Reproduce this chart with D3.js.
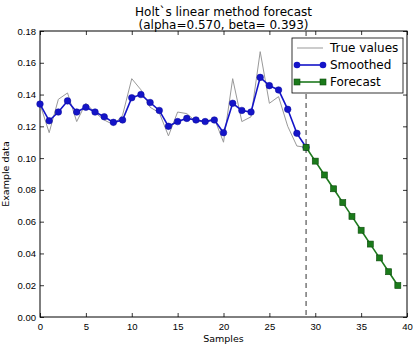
<!DOCTYPE html>
<html>
<head>
<meta charset="utf-8">
<script src="https://d3js.org/d3.v7.min.js"></script>
<style>
  body { margin: 0; background: #fff; }
  svg { font-family: "DejaVu Sans", sans-serif; }
</style>
</head>
<body>
<svg width="415" height="346"></svg>
<script>
// data
const trueValues = [0.134, 0.116, 0.137, 0.141, 0.123, 0.1345, 0.1286, 0.124, 0.121, 0.127,
  0.150, 0.143, 0.132, 0.1286, 0.114, 0.129, 0.128, 0.123, 0.123, 0.125,
  0.110, 0.150, 0.123, 0.126, 0.167, 0.1345, 0.1387, 0.120, 0.1076, 0.1068];
const smoothed = [0.134, 0.1235, 0.129, 0.136, 0.129, 0.132, 0.129, 0.126, 0.1225, 0.124,
  0.138, 0.140, 0.135, 0.130, 0.120, 0.123, 0.125, 0.124, 0.123, 0.124,
  0.116, 0.1345, 0.130, 0.129, 0.1508, 0.1456, 0.1429, 0.1307, 0.1156, 0.1068];
const forecast = [0.1068, 0.0981, 0.0894, 0.0807, 0.0720, 0.0633, 0.0546, 0.0459, 0.0372, 0.0285, 0.0198];
const forecastStart = 29;
const xTicks = [0, 5, 10, 15, 20, 25, 30, 35, 40];
const yTicks = [0, 0.02, 0.04, 0.06, 0.08, 0.10, 0.12, 0.14, 0.16, 0.18];

const svg = d3.select("svg");
const margin = {top: 31, right: 8, bottom: 29, left: 40};
const width = 415 - margin.left - margin.right,
      height = 346 - margin.top - margin.bottom;
const g = svg.append("g").attr("transform", `translate(${margin.left},${margin.top})`);

const x = d3.scaleLinear().domain([0, 40]).range([0, width]);
const y = d3.scaleLinear().domain([0, 0.18]).range([height, 0]);

// axes with inward ticks on all sides
const fmt = d3.format(".2f");
const ax = (a) => a.tickSizeInner(-4).tickSizeOuter(0).tickPadding(4);
const xa = g.append("g").attr("transform", `translate(0,${height})`)
  .call(ax(d3.axisBottom(x).tickValues(xTicks).tickFormat(d3.format("d"))));
const xt = g.append("g").call(ax(d3.axisTop(x).tickValues(xTicks)).tickFormat(""));
const ya = g.append("g").call(ax(d3.axisLeft(y).tickValues(yTicks).tickFormat(fmt)));
const yr = g.append("g").attr("transform", `translate(${width},0)`)
  .call(ax(d3.axisRight(y).tickValues(yTicks)).tickFormat(""));
[xa, xt, ya, yr].forEach(a => {
  a.select(".domain").remove();
  a.selectAll("line").attr("stroke", "#000").attr("stroke-width", 0.8);
  a.selectAll("text").attr("font-size", 9.5).attr("fill", "#000");
});
xa.selectAll("text").attr("dy", "0.9em");

g.append("rect").attr("width", width).attr("height", height)
  .attr("fill", "none").attr("stroke", "#000").attr("stroke-width", 1);

const line = d3.line().x((d, i) => x(i)).y(d => y(d));
const fline = d3.line().x((d, i) => x(i + forecastStart)).y(d => y(d));

// dashed line where forecast starts
g.append("line")
  .attr("x1", x(forecastStart)).attr("x2", x(forecastStart))
  .attr("y1", 0).attr("y2", height)
  .attr("stroke", "#555").attr("stroke-width", 1.2).attr("stroke-dasharray", "5,4");

g.append("path").datum(trueValues).attr("d", line)
  .attr("fill", "none").attr("stroke", "#999").attr("stroke-width", 1);

g.append("path").datum(smoothed).attr("d", line)
  .attr("fill", "none").attr("stroke", "#1414c8").attr("stroke-width", 1.6);
g.selectAll(".sm").data(smoothed).enter().append("circle")
  .attr("cx", (d, i) => x(i)).attr("cy", d => y(d)).attr("r", 3.3)
  .attr("fill", "#1414c8").attr("stroke", "#0a0a9a").attr("stroke-width", 0.5);

g.append("path").datum(forecast).attr("d", fline)
  .attr("fill", "none").attr("stroke", "#1e7a1e").attr("stroke-width", 1.6);
g.selectAll(".fc").data(forecast).enter().append("rect")
  .attr("x", (d, i) => x(i + forecastStart) - 3).attr("y", d => y(d) - 3)
  .attr("width", 6).attr("height", 6)
  .attr("fill", "#1a7a1a").attr("stroke", "#0c4a0c").attr("stroke-width", 0.6);

// legend
const lg = svg.append("g").attr("transform", "translate(292,38)");
lg.append("rect").attr("width", 111).attr("height", 55)
  .attr("fill", "#fff").attr("stroke", "#000").attr("stroke-width", 0.8);
const items = [
  {name: "True values", color: "#999", w: 1, marker: null},
  {name: "Smoothed", color: "#1414c8", w: 1.6, marker: "circle"},
  {name: "Forecast", color: "#1e7a1e", w: 1.6, marker: "square"}
];
items.forEach((it, i) => {
  const yy = 10 + i * 17;
  lg.append("line").attr("x1", 5).attr("x2", 31).attr("y1", yy).attr("y2", yy)
    .attr("stroke", it.color).attr("stroke-width", it.w);
  [5, 31].forEach(px => {
    if (it.marker === "circle")
      lg.append("circle").attr("cx", px).attr("cy", yy).attr("r", 3.3).attr("fill", it.color);
    if (it.marker === "square")
      lg.append("rect").attr("x", px - 3).attr("y", yy - 3).attr("width", 6).attr("height", 6)
        .attr("fill", "#1a7a1a").attr("stroke", "#0c4a0c").attr("stroke-width", 0.6);
  });
  lg.append("text").attr("x", 38).attr("y", yy).attr("dy", "0.35em")
    .attr("font-size", 12).text(it.name);
});

// titles
svg.append("text").attr("x", margin.left + width / 2).attr("y", 16)
  .attr("text-anchor", "middle").attr("font-size", 12).text("Holt`s linear method forecast");
svg.append("text").attr("x", margin.left + width / 2).attr("y", 29)
  .attr("text-anchor", "middle").attr("font-size", 12).text("(alpha=0.570, beta= 0.393)");
svg.append("text").attr("x", margin.left + width / 2).attr("y", 342)
  .attr("text-anchor", "middle").attr("font-size", 9.5).text("Samples");
svg.append("text").attr("transform", `translate(9,${margin.top + height / 2}) rotate(-90)`)
  .attr("text-anchor", "middle").attr("font-size", 9.5).text("Example data");
</script>
</body>
</html>
